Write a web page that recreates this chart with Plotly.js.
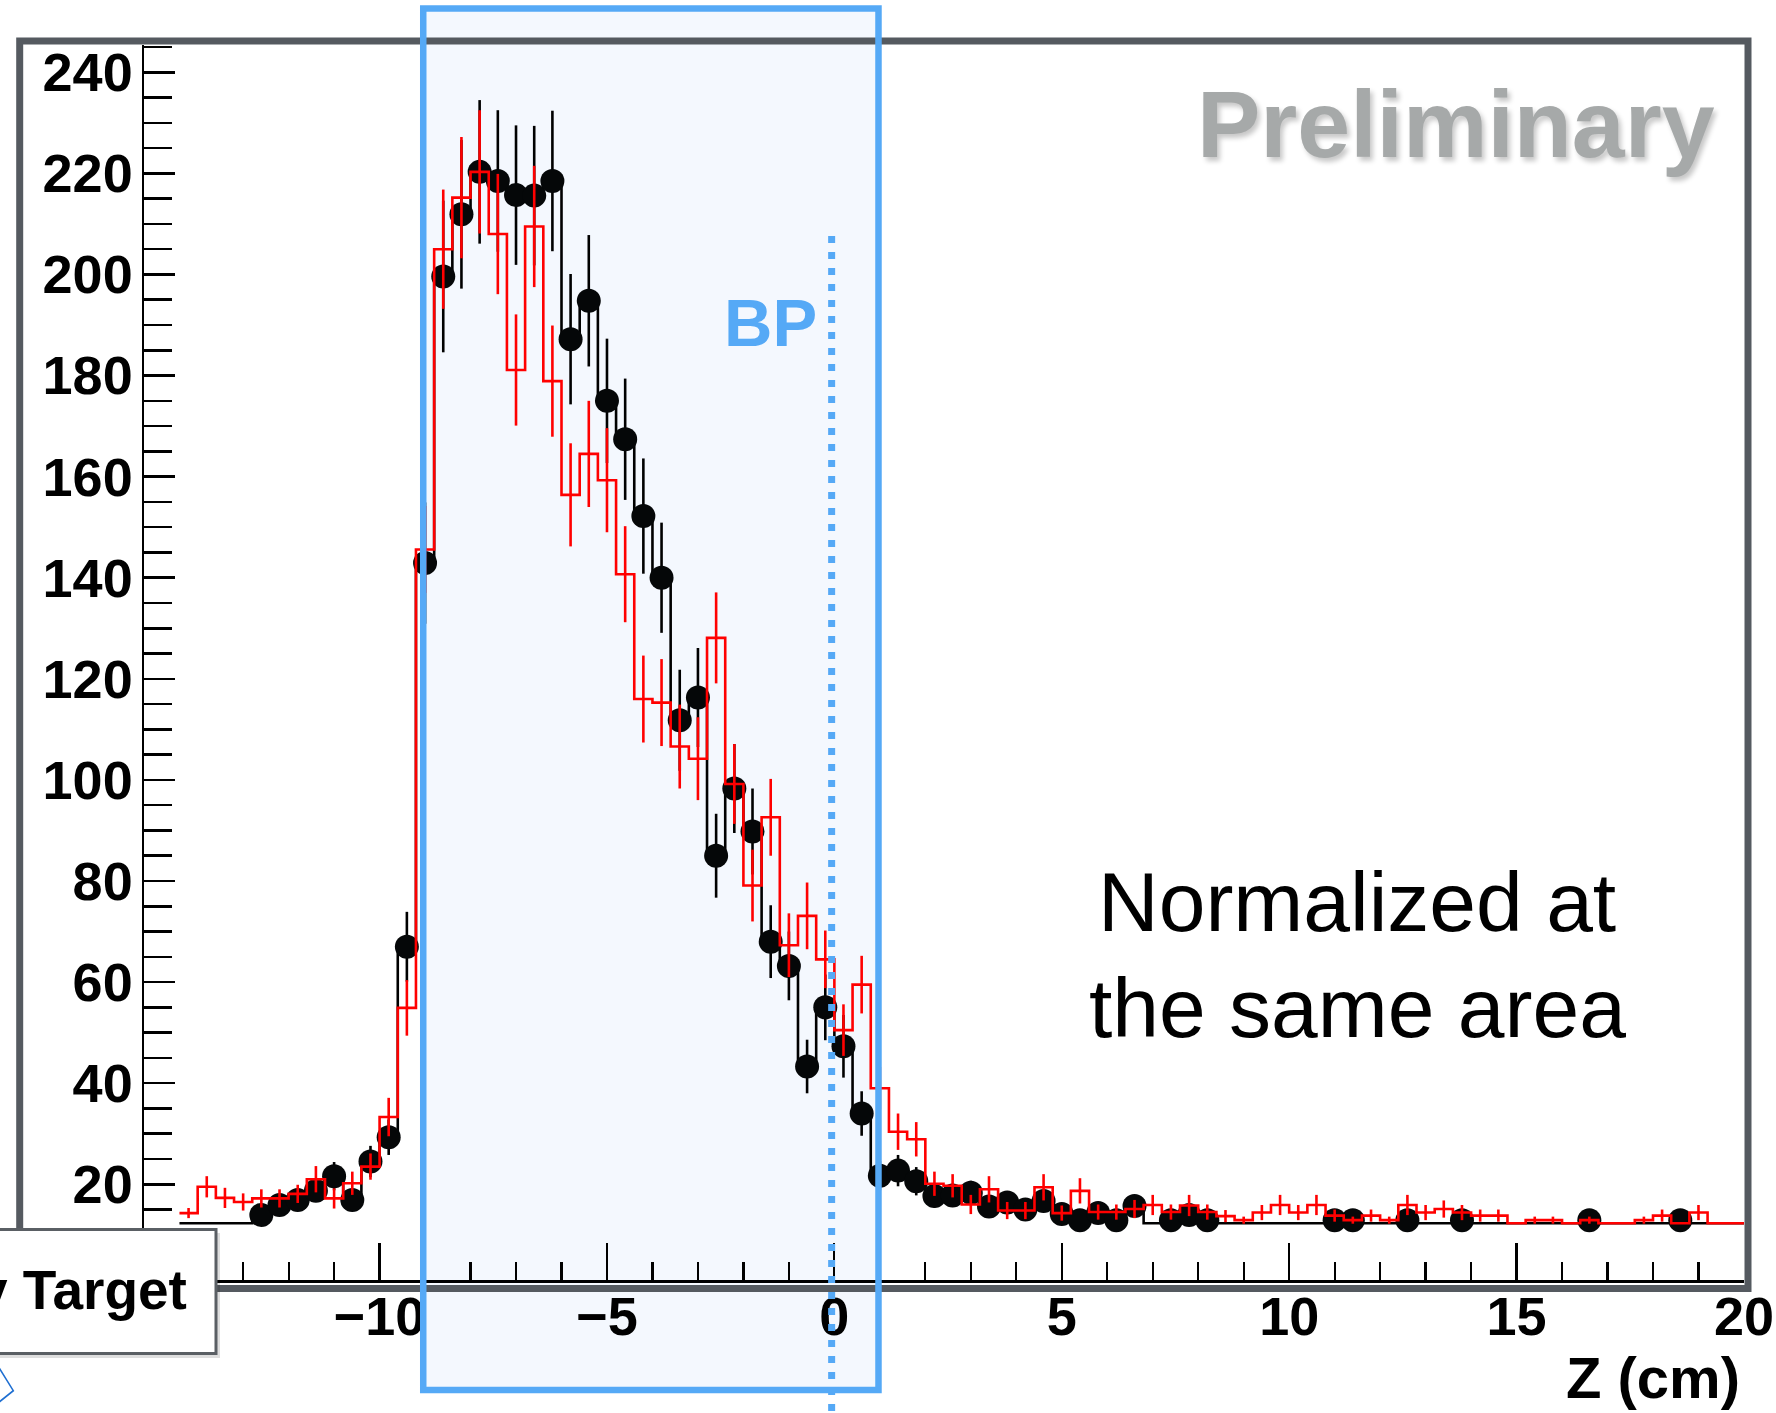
<!DOCTYPE html>
<html>
<head>
<meta charset="utf-8">
<script src="https://cdn.plot.ly/plotly-3.0.1.min.js"></script>
<style>
  html, body { margin: 0; padding: 0; background: #ffffff; }
  #chart { width: 1776px; height: 1413px; }
</style>
</head>
<body>
<div id="chart"></div>
<script>
// Vertex Z distributions in 0.4 cm bins, both samples normalized to the same area.

// bin centres (cm)
const zCenters = [
  -14.2, -13.8, -13.4, -13.0, -12.6, -12.2, -11.8, -11.4, -11.0, -10.6,
  -10.2,  -9.8,  -9.4,  -9.0,  -8.6,  -8.2,  -7.8,  -7.4,  -7.0,  -6.6,
   -6.2,  -5.8,  -5.4,  -5.0,  -4.6,  -4.2,  -3.8,  -3.4,  -3.0,  -2.6,
   -2.2,  -1.8,  -1.4,  -1.0,  -0.6,  -0.2,   0.2,   0.6,   1.0,   1.4,
    1.8,   2.2,   2.6,   3.0,   3.4,   3.8,   4.2,   4.6,   5.0,   5.4,
    5.8,   6.2,   6.6,   7.0,   7.4,   7.8,   8.2,   8.6,   9.0,   9.4,
    9.8,  10.2,  10.6,  11.0,  11.4,  11.8,  12.2,  12.6,  13.0,  13.4,
   13.8,  14.2,  14.6,  15.0,  15.4,  15.8,  16.2,  16.6,  17.0,  17.4,
   17.8,  18.2,  18.6,  19.0,  19.4,  19.8
];
const BIN_WIDTH = 0.4;
const EMPTY_LEVEL = 12.3;   // level of the histogram line in bins without entries

// labelled major ticks on the Z axis (cm)
const zTickValues = [-10, -5, 0, 5, 10, 15, 20];

// black points: data (null = empty bin)
const dataCounts = [
  null, null, null, null, 13.9, 15.9, 16.9, 18.7, 21.6, 16.9,
  24.5, 29.3, 67.0, 142.9, 199.6, 211.9, 220.3, 218.5, 215.7, 215.6,
  218.5, 187.2, 194.8, 175.0, 167.4, 152.2, 140.0, 111.8, 116.3, 85.0,
  98.3, 89.8, 68.0, 63.2, 43.3, 55.0, 47.3, 34.0, 21.7, 22.7,
  20.6, 17.7, 17.8, 18.3, 15.6, 16.4, 15.0, 16.7, 14.1, 12.9,
  14.3, 12.9, 15.7, null, 12.9, 13.9, 12.9, null, null, null,
  null, null, null, 12.9, 12.9, null, null, 12.9, null, null,
  12.9, null, null, null, null, null, null, 12.9, null, null,
  null, null, 12.9, null, null, null
];
const dataErrors = [
  null, null, null, null, 1.4, 1.6, 1.8, 2.2, 2.8, 2.0,
  3.1, 3.5, 6.9, 12.0, 15.0, 14.7, 14.2, 14.0, 13.8, 13.8,
  13.9, 12.9, 13.0, 12.3, 12.0, 11.4, 10.9, 10.0, 9.8, 8.3,
  8.8, 8.5, 7.2, 6.8, 5.3, 6.5, 6.2, 4.4, 2.9, 3.1,
  2.8, 2.3, 2.3, 2.4, 2.0, 2.1, 1.8, 2.1, 1.5, 0.8,
  1.5, 0.8, 1.8, null, 0.8, 1.4, 0.8, null, null, null,
  null, null, null, 0.8, 0.8, null, null, 0.8, null, null,
  0.8, null, null, null, null, null, null, 0.8, null, null,
  null, null, 0.8, null, null, null
];

// red histogram: simulation (null = empty bin)
const simCounts = [
  14.3, 19.5, 17.3, 16.5, 17.2, 17.2, 18.1, 21.0, 17.2, 20.2,
  23.5, 33.3, 54.9, 145.6, 205.0, 215.2, 220.3, 208.0, 181.1, 209.5,
  178.9, 156.4, 164.5, 159.3, 140.7, 116.0, 115.3, 106.6, 104.2, 128.1,
  99.2, 79.1, 92.6, 67.3, 73.1, 64.5, 50.5, 59.5, 39.0, 30.4,
  28.9, 20.1, 19.7, 16.0, 19.0, 14.8, 14.8, 19.4, 14.3, 18.7,
  14.5, 14.5, 15.1, 15.9, 14.5, 15.8, 14.5, 13.7, 12.9, 14.4,
  15.9, 14.4, 15.9, 13.8, 12.9, 13.8, 12.9, 15.9, 14.4, 15.1,
  14.4, 13.8, 13.8, null, 12.9, 12.9, null, 12.9, null, null,
  12.9, 13.8, null, 14.4, null, null
];
const simErrors = [
  1.0, 2.1, 2.0, 1.7, 1.8, 1.8, 1.8, 2.6, 2.0, 2.3,
  2.6, 3.8, 5.5, 8.6, 11.8, 12.0, 12.2, 11.9, 11.0, 12.0,
  11.0, 10.2, 10.5, 10.3, 9.5, 8.6, 8.6, 8.3, 8.2, 9.0,
  7.9, 7.1, 7.6, 6.3, 6.6, 5.7, 5.1, 5.7, 4.2, 3.6,
  3.4, 2.4, 2.3, 1.9, 2.6, 1.7, 1.7, 2.6, 1.5, 2.5,
  1.5, 1.5, 1.8, 2.0, 1.5, 2.1, 1.5, 1.2, 0.7, 1.5,
  2.0, 1.5, 2.0, 1.2, 0.7, 1.2, 0.7, 2.0, 1.5, 1.7,
  1.5, 1.2, 1.2, null, 0.7, 0.7, null, 0.7, null, null,
  0.7, 1.2, null, 1.5, null, null
];

// beam-pipe window and BP position (cm)
const bpWindow = [-9.04, 0.97];
const bpPosition = -0.06;

// ---- page geometry ----
const W = 1776, H = 1413;
const L = 144, R = 1744, T = 45, B = 1280;      // plotting area in page pixels
const xRange = [-15.18, 20.001];
const yRange = [1.06, 245.4];
const px = X => (X - L) / (R - L);               // page x -> paper
const py = Y => (B - Y) / (B - T);               // page y -> paper
const zx = z => (z - xRange[0]) / (xRange[1] - xRange[0]);  // data z -> paper

const FONT = 'Liberation Sans, Arial, Helvetica, sans-serif';
const BLUE = '#55a9f6';
const LW = 2.6;

function stepLine(counts) {
  const xs = [], ys = [];
  counts.forEach((v, i) => {
    xs.push(zCenters[i] - BIN_WIDTH / 2);
    ys.push(v == null ? EMPTY_LEVEL : v);
  });
  xs.push(zCenters[zCenters.length - 1] + BIN_WIDTH / 2);
  ys.push(ys[ys.length - 1]);
  return { xs, ys };
}
function filled(counts, errors) {
  const x = [], y = [], e = [];
  counts.forEach((v, i) => {
    if (v != null) { x.push(zCenters[i]); y.push(v); e.push(errors[i]); }
  });
  return { x, y, e };
}

const dStep = stepLine(dataCounts);
const sStep = stepLine(simCounts);
const dPts = filled(dataCounts, dataErrors);
const sPts = filled(simCounts, simErrors);

const traces = [
  { x: dStep.xs, y: dStep.ys, type: 'scatter', mode: 'lines',
    line: { shape: 'hv', color: '#000000', width: LW }, hoverinfo: 'skip' },
  { x: dPts.x, y: dPts.y, type: 'scatter', mode: 'markers',
    marker: { symbol: 'circle', size: 24, color: '#050708', line: { width: 0 } },
    error_y: { type: 'data', array: dPts.e, visible: true, color: '#000000', thickness: LW, width: 0 } },
  { x: sStep.xs, y: sStep.ys, type: 'scatter', mode: 'lines',
    line: { shape: 'hv', color: '#ff0000', width: LW }, hoverinfo: 'skip' },
  { x: sPts.x, y: sPts.y, type: 'scatter', mode: 'markers',
    marker: { size: 1, color: 'rgba(0,0,0,0)' },
    error_y: { type: 'data', array: sPts.e, visible: true, color: '#ff0000', thickness: LW, width: 0 } }
];

const tickFont = { family: FONT, size: 54, color: '#000000', weight: 'bold' };

const layout = {
  width: W, height: H,
  margin: { l: L, r: W - R, t: T, b: H - B, pad: 0 },
  paper_bgcolor: '#ffffff',
  plot_bgcolor: 'rgba(0,0,0,0)',
  showlegend: false,
  xaxis: {
    range: xRange, showgrid: false, zeroline: false,
    showline: true, linecolor: '#000000', linewidth: 3,
    ticks: 'inside', ticklen: 37, tickwidth: 2.2, tickcolor: '#000000',
    tickmode: 'array', tickvals: zTickValues,
    minor: { ticks: 'inside', dtick: 1, tick0: 0, ticklen: 18, tickwidth: 2.2, tickcolor: '#000000', showgrid: false },
    tickfont: tickFont, ticklabeloverflow: 'allow', ticklabelstandoff: -13
  },
  yaxis: {
    range: yRange, showgrid: false, zeroline: false,
    showline: true, linecolor: '#000000', linewidth: 2.5,
    ticks: 'inside', ticklen: 31, tickwidth: 2.5, tickcolor: '#000000',
    tick0: 0, dtick: 20,
    minor: { ticks: 'inside', dtick: 5, tick0: 0, ticklen: 28, tickwidth: 2.5, tickcolor: '#000000', showgrid: false },
    tickfont: tickFont, ticklabelstandoff: -2
  },
  shapes: [
    // light fill of the beam-pipe window
    { type: 'rect', xref: 'paper', yref: 'paper', layer: 'below',
      x0: zx(bpWindow[0]), x1: zx(bpWindow[1]), y0: py(1390), y1: py(8.5),
      fillcolor: '#f4f8fe', line: { width: 0 } },
    // pad frame
    { type: 'rect', xref: 'paper', yref: 'paper', layer: 'above',
      x0: px(19.7), x1: px(1748), y0: py(1288.5), y1: py(41),
      fillcolor: 'rgba(0,0,0,0)', line: { color: '#555a60', width: 7 } },
    // BP position
    { type: 'line', xref: 'paper', yref: 'paper', layer: 'above',
      x0: zx(bpPosition), x1: zx(bpPosition), y0: py(236), y1: py(1420),
      line: { color: BLUE, width: 7, dash: '7px,9px' } },
    // beam-pipe window outline
    { type: 'rect', xref: 'paper', yref: 'paper', layer: 'above',
      x0: zx(bpWindow[0]), x1: zx(bpWindow[1]), y0: py(1390), y1: py(8.5),
      fillcolor: 'rgba(0,0,0,0)', line: { color: BLUE, width: 6.5 } },
    // legend box with shadow
    { type: 'rect', xref: 'paper', yref: 'paper', layer: 'above',
      x0: px(-10), x1: px(220), y0: py(1358), y1: py(1233),
      fillcolor: 'rgba(0,0,0,0.13)', line: { width: 0 } },
    { type: 'rect', xref: 'paper', yref: 'paper', layer: 'above',
      x0: px(-10), x1: px(216), y0: py(1353.5), y1: py(1229.5),
      fillcolor: '#ffffff', line: { color: '#5a5f64', width: 3 } },
    // arrow tip below the legend
    { type: 'path', xref: 'paper', yref: 'paper', layer: 'above',
      path: `M ${px(-2)},${py(1366)} L ${px(13.3)},${py(1390.7)} L ${px(-2)},${py(1403)}`,
      fillcolor: 'rgba(0,0,0,0)', line: { color: '#1f6fd1', width: 1.6 } }
  ],
  annotations: [
    { xref: 'paper', yref: 'paper', x: px(1717), y: py(124), xanchor: 'right', yanchor: 'middle',
      text: 'Preliminary', showarrow: false,
      font: { family: FONT, size: 95, color: '#a6a9a9', weight: 'bold', shadow: '3px 4px 5px rgba(0,0,0,0.22)' } },
    { xref: 'paper', yref: 'paper', x: px(770.5), y: py(323), xanchor: 'center', yanchor: 'middle',
      text: 'BP', showarrow: false,
      font: { family: FONT, size: 67, color: BLUE, weight: 'bold' } },
    { xref: 'paper', yref: 'paper', x: px(1357), y: py(901.5), xanchor: 'center', yanchor: 'middle',
      text: 'Normalized at', showarrow: false,
      font: { family: FONT, size: 84, color: '#000000' } },
    { xref: 'paper', yref: 'paper', x: px(1357), y: py(1008), xanchor: 'center', yanchor: 'middle',
      text: 'the same area', showarrow: false,
      font: { family: FONT, size: 84, color: '#000000' } },
    { xref: 'paper', yref: 'paper', x: px(189), y: py(1290), xanchor: 'right', yanchor: 'middle',
      text: 'y Target', showarrow: false,
      font: { family: FONT, size: 55, color: '#000000', weight: 'bold' } },
    { xref: 'paper', yref: 'paper', x: px(1742), y: py(1377), xanchor: 'right', yanchor: 'middle',
      text: 'Z (cm)', showarrow: false,
      font: { family: FONT, size: 58, color: '#000000', weight: 'bold' } }
  ]
};

Plotly.newPlot('chart', traces, layout, { staticPlot: true, displayModeBar: false });
</script>
</body>
</html>
